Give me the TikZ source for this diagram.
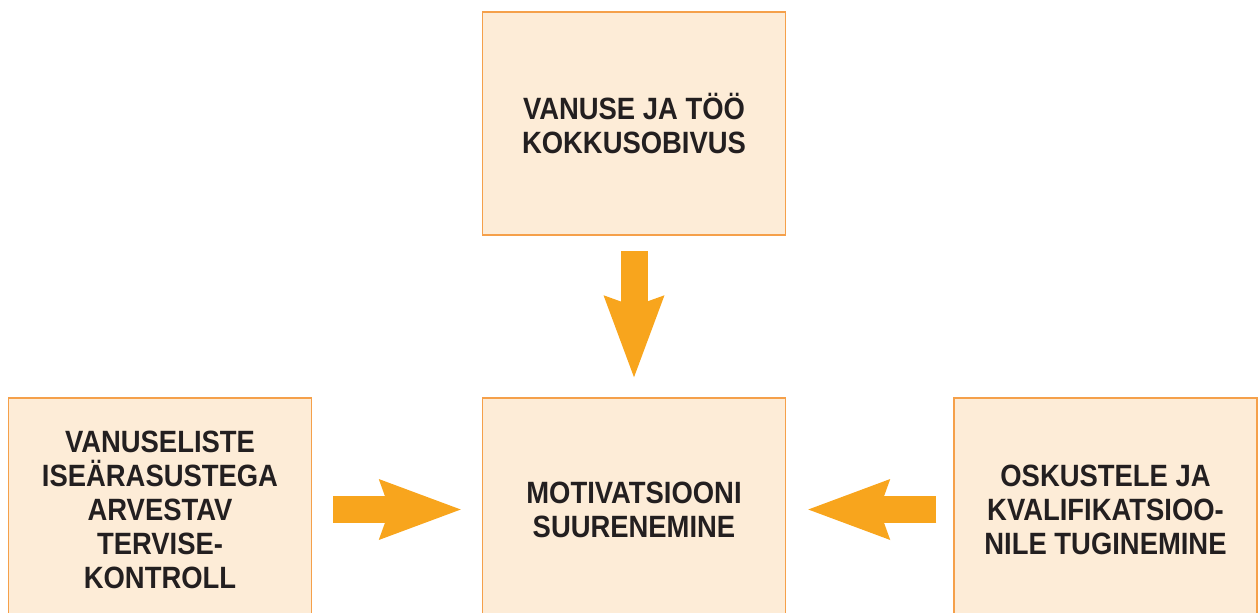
\documentclass[tikz,border=0pt]{standalone}
\usepackage{fontspec}
\setmainfont{Liberation Sans}[FakeStretch=0.89]
\usepackage{tikz}
\usetikzlibrary{arrows.meta}
\definecolor{boxfill}{HTML}{FDECD7}
\definecolor{boxline}{HTML}{F5A04A}
\definecolor{arrowc}{HTML}{F8A51D}
\definecolor{textc}{HTML}{231F20}
\tikzset{
  box/.style={
    rectangle, draw=boxline, fill=boxfill, line width=0.75pt,
    minimum width=151.5pt, minimum height=111.5pt,
    align=center, text=textc,
    font=\fontsize{15.4pt}{17pt}\selectfont\bfseries},
  flow/.style={
    draw=arrowc, line width=13.5pt,
    -{Stealth[length=41pt, width=30.5pt, inset=5.5pt, line width=0pt, fill=arrowc]}}
}
\begin{document}
\begin{tikzpicture}[x=0.5pt, y=-0.5pt]

    % Frame: size of the picture
    \useasboundingbox (0,0) rectangle (1260,612);

    % Boxes: top, centre, left & right
    \node[box] (fit)    at (634,123.5)   {VANUSE JA TÖÖ\\KOKKUSOBIVUS};
    \node[box] (motiv)  at (634,509.5)   {MOTIVATSIOONI\\SUURENEMINE};
    \node[box] (health) at (160,509.5)   {VANUSELISTE\\ISEÄRASUSTEGA\\ARVESTAV\\TERVISE-\\KONTROLL};
    \node[box] (skills) at (1105.5,509.5) {OSKUSTELE JA\\KVALIFIKATSIOO-\\NILE TUGINEMINE};

    % Arrows: into the centre box
    \draw[flow] ([yshift=-7.5pt]fit.south) -- ([yshift=10pt]motiv.north);
    \draw[flow] ([xshift=10.5pt]health.east) -- ([xshift=-10.5pt]motiv.west);
    \draw[flow] ([xshift=-8.5pt]skills.west) -- ([xshift=11pt]motiv.east);

\end{tikzpicture}
\end{document}
